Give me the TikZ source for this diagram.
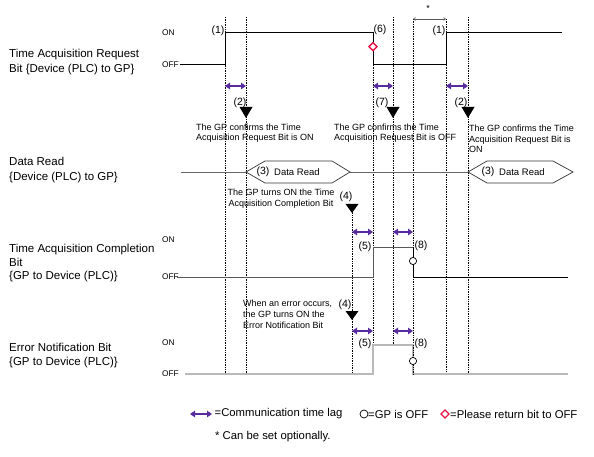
\documentclass[tikz,border=0pt]{standalone}
\usepackage{fontspec}
\setmainfont{Liberation Sans}
\usetikzlibrary{arrows.meta}
\definecolor{lagpurple}{RGB}{88,44,160}
\definecolor{retred}{RGB}{232,20,70}
\begin{document}
\begin{tikzpicture}[x=1pt,y=-1pt,
  lbl/.style={font=\fontsize{11.5}{15}\selectfont, align=left, anchor=west, inner sep=0pt},
  lvl/.style={font=\fontsize{8.3}{9}\selectfont, anchor=west, inner sep=0pt},
  num/.style={font=\fontsize{10.5}{12}\selectfont, inner sep=0pt},
  note/.style={font=\fontsize{9}{10.5}\selectfont, align=left, anchor=west, inner sep=0pt},
  legend/.style={font=\fontsize{11.3}{13}\selectfont, anchor=west, inner sep=0pt},
  tickline/.style={line width=0.8pt, dash pattern=on 0.8pt off 0.9pt},
  lag/.style={draw=lagpurple, line width=1.3pt, {Triangle[length=5pt,width=6.5pt]}-{Triangle[length=5pt,width=6.5pt]}},
  sig/.style={draw, line width=1pt},
  marker/.style={fill=black, draw=none},
  offcirc/.style={draw=black, line width=0.7pt, fill=white},
  retdiam/.style={draw=retred, line width=1.4pt, fill=white},
]
\useasboundingbox (0,0) rectangle (594,457);

% ---------- left labels ----------
\node[lbl] (lreq) at (9,62.5) {Time Acquisition Request\\Bit \{Device (PLC) to GP\}};
\node[lbl] (ldata) at (9,170.5) {Data Read\\\{Device (PLC) to GP\}};
\node[lbl, font=\fontsize{11.5}{13.5}\selectfont] (lcomp) at (9,263.5) {Time Acquisition Completion\\Bit\\\{GP to Device (PLC)\}};
\node[lbl, font=\fontsize{11.5}{14}\selectfont] (lerr) at (9,356) {Error Notification Bit\\\{GP to Device (PLC)\}};

% ---------- ON / OFF ----------
\node[lvl] (on1) at (162,33) {ON};
\node[lvl] (off1) at (162,65) {OFF};
\node[lvl] (on2) at (162,240) {ON};
\node[lvl] (off2) at (162,277) {OFF};
\node[lvl] (on3) at (162,343) {ON};
\node[lvl] (off3) at (162,374) {OFF};

% ---------- dotted time lines ----------
\draw[tickline] (225,17) -- (225,374);
\draw[tickline] (246,17) -- (246,374);
\draw[tickline] (352,205) -- (352,374);
\draw[tickline] (373,65) -- (373,374);
\draw[tickline] (393,17) -- (393,345);
\draw[tickline] (413,19) -- (413,374);
\draw[tickline] (446,19) -- (446,374);
\draw[tickline] (468,17) -- (468,374);

% ---------- * bracket ----------
\draw[line width=0.6pt, gray!70!black, {Straight Barb[length=2pt,width=3pt]}-{Straight Barb[length=2pt,width=3pt]}] (413,19) -- (446,19);
\node[font=\fontsize{9}{10}\selectfont, inner sep=0pt] (star) at (428,8) {*};

% ---------- request bit ----------
\draw[sig] (180,65) -- (225,65) -- (225,33) -- (373,33) -- (373,65) -- (446,65) -- (446,33) -- (562,33);
\node[num] (n1a) at (218,31) {(1)};
\node[num] (n6) at (380,30) {(6)};
\node[num] (n1b) at (439,31) {(1)};
\draw[retdiam] (373,42.7) -- (377,46.7) -- (373,50.7) -- (369,46.7) -- cycle;

% ---------- lags, row 1 ----------
\draw[lag] (225,86) -- (246,86);
\draw[lag] (373,86) -- (393,86);
\draw[lag] (446,86) -- (468,86);

\node[num] (n2a) at (240,103) {(2)};
\node[num] (n7) at (382,103) {(7)};
\node[num] (n2b) at (461,103) {(2)};
\fill[marker] (239.5,107) -- (252.5,107) -- (246,118) -- cycle;
\fill[marker] (386.5,107) -- (399.5,107) -- (393,118) -- cycle;
\fill[marker] (461.5,107) -- (474.5,107) -- (468,118) -- cycle;

\node[note] (t2a) at (196,133) {The GP confirms the Time\\Acquisition Request Bit is ON};
\node[note] (t7) at (334,133) {The GP confirms the Time\\Acquisition Request Bit is OFF};
\node[note] (t2b) at (469,139) {The GP confirms the Time\\Acquisition Request Bit is\\ON};

% ---------- data read ----------
\draw[gray!80!black, line width=0.8pt] (181,172) -- (246,172);
\draw[gray!80!black, line width=0.8pt] (350,172) -- (468,172);
\draw[black!80, line width=0.7pt] (246,172) -- (265,161) -- (332,161) -- (350,172) -- (332,183) -- (265,183) -- cycle;
\draw[black!80, line width=0.7pt] (468,172) -- (487,161) -- (553,161) -- (573,172) -- (553,183) -- (487,183) -- cycle;
\node[num] (h1n) at (263,172) {(3)};
\node[font=\fontsize{9.5}{11}\selectfont, inner sep=0pt, anchor=west] (h1t) at (274,172) {Data Read};
\node[num] (h2n) at (488,172) {(3)};
\node[font=\fontsize{9.5}{11}\selectfont, inner sep=0pt, anchor=west] (h2t) at (499,172) {Data Read};

% ---------- completion bit ----------
\node[note, align=center, anchor=center] (t4a) at (281,198.5) {The GP turns ON the Time\\Acquisition Completion Bit};
\node[num] (n4a) at (346,197) {(4)};
\fill[marker] (345.5,204) -- (358.5,204) -- (352,213) -- cycle;
\draw[lag] (352,232) -- (373,232);
\draw[lag] (393,232) -- (413,232);
\draw[gray!70!black, line width=1pt] (177,277) -- (373,277) -- (373,247) -- (413,247);
\draw[black, line width=1pt] (413,247) -- (413,277) -- (568,277);
\node[num] (n5a) at (365,247) {(5)};
\node[num] (n8a) at (421,246) {(8)};
\draw[offcirc] (413,261) circle (3.6);

% ---------- error bit ----------
\node[note, font=\fontsize{9}{11}\selectfont] (t4b) at (243,314) {When an error occurs,\\the GP turns ON the\\Error Notification Bit};
\node[num] (n4b) at (345,305) {(4)};
\fill[marker] (345.5,311) -- (358.5,311) -- (352,320) -- cycle;
\draw[lag] (352,331) -- (373,331);
\draw[lag] (393,331) -- (413,331);
\draw[gray!55, line width=1.6pt] (185,374) -- (373,374) -- (373,345) -- (413,345) -- (413,374) -- (568,374);
\draw[tickline] (413,345) -- (413,374);
\node[num] (n5b) at (365,344) {(5)};
\node[num] (n8b) at (421,344) {(8)};
\draw[offcirc] (413,361) circle (3.6);

% ---------- legend ----------
\draw[lag] (190,414) -- (212,414);
\node[legend] (leg1) at (214.5,414) {=Communication time lag};
\draw[offcirc] (364,414) circle (4);
\node[legend] (leg2) at (368,414) {=GP is OFF};
\draw[retdiam] (445,410) -- (449,414) -- (445,418) -- (441,414) -- cycle;
\node[legend] (leg3) at (450,414) {=Please return bit to OFF};
\node[legend] (leg4) at (215,437) {* Can be set optionally.};
\end{tikzpicture}
\end{document}
